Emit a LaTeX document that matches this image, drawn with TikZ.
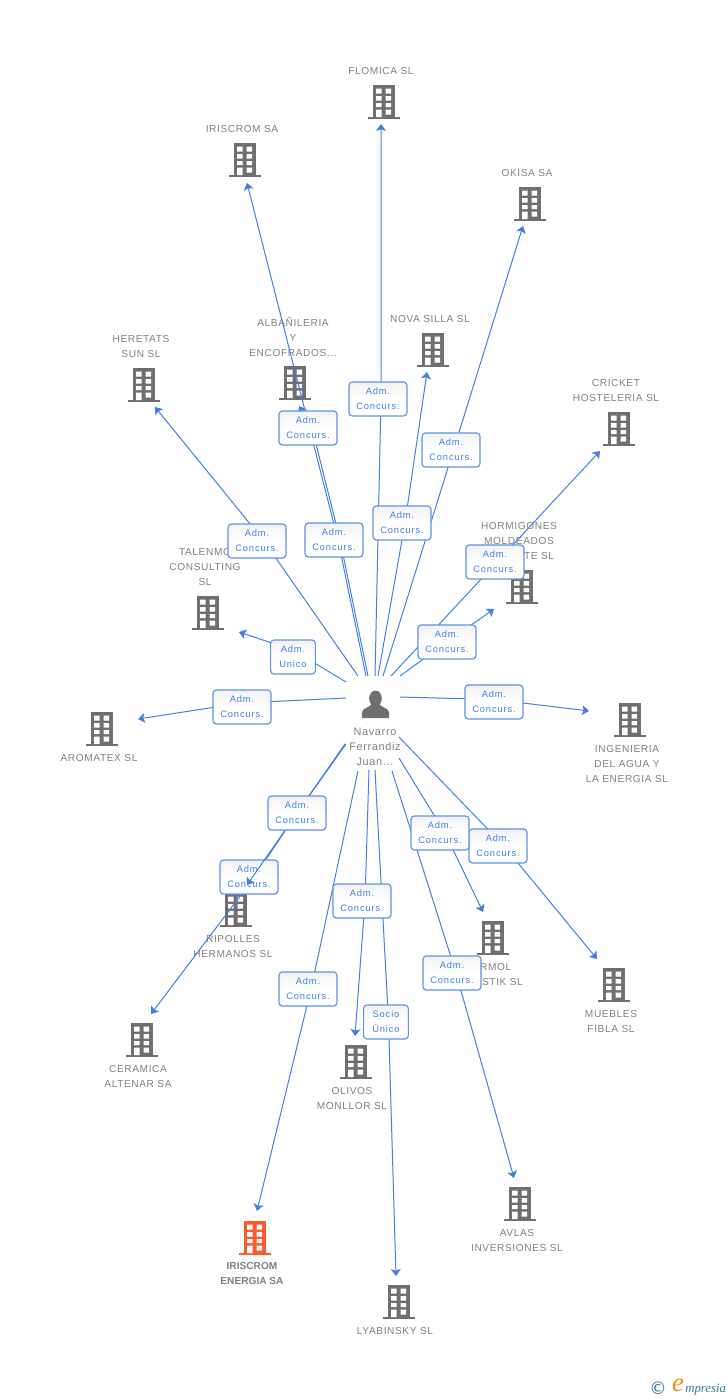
\documentclass[tikz,border=0pt]{standalone}
\usepackage{fontspec}
\usetikzlibrary{arrows.meta}
\setmainfont{Liberation Sans}
\newfontfamily\lblfont[LetterSpace=6]{Liberation Sans}
\newfontfamily\boxfont[LetterSpace=9]{Liberation Sans}
\newfontfamily\logofont{Liberation Serif}
\newfontfamily\symfont{DejaVu Sans}
\definecolor{linkblue}{HTML}{3F80E2}
\definecolor{boxedge}{HTML}{5C94E6}
\definecolor{graytext}{HTML}{7F7F7F}
\definecolor{icongray}{HTML}{6F6F6F}
\definecolor{iconorange}{HTML}{FF5A2B}
\definecolor{logoteal}{HTML}{2F7C9C}
\definecolor{logoorange}{HTML}{F28A1E}
\pgfdeclarelayer{under}
\pgfdeclarelayer{edges}
\pgfdeclarelayer{over}
\pgfsetlayers{under,edges,main,over}
\tikzset{
  x=0.75pt,y=-0.75pt,
  lbl/.style={text=graytext,align=center,font=\lblfont\fontsize{7.6pt}{11.25pt}\selectfont,inner sep=0pt},
  rel/.style={draw=boxedge,line width=0.85pt,rounded corners=2.5pt,top color=black!5,bottom color=white,middle color=white,
    text=linkblue,align=center,font=\boxfont\fontsize{7pt}{11.25pt}\selectfont,inner sep=0pt,minimum width=43.5pt,minimum height=25.5pt},
  relsm/.style={rel,minimum width=33.5pt},
  link/.style={draw=linkblue,line width=0.75pt,-{Stealth[length=5.2pt,width=7.5pt,inset=1.2pt]}},
  plainlink/.style={draw=linkblue,line width=0.75pt},
  pics/bld/.style={code={
    \fill[#1] (-11,-17) rectangle (11,15);
    \fill[#1] (-16,15) rectangle (16,17);
    \fill[white] (-8,-13.5) rectangle (-2.5,-8.5) (1.5,-13.5) rectangle (7,-8.5)
                 (-8,-6) rectangle (-2.5,-1.5) (1.5,-6) rectangle (7,-1.5)
                 (-8,1) rectangle (-2.5,5) (1.5,1) rectangle (7,5)
                 (-8,7.5) rectangle (-2.5,15) (1.5,7.5) rectangle (7,12.5);
  }},
}
\begin{document}
\begin{tikzpicture}
\useasboundingbox (0,0) rectangle (728,1400);

\begin{pgfonlayer}{under}
% icons
\foreach \px/\py in {384/102,245/160,530/204,433/350,295/383,144/385,619/429,522/587,208/613,102/729,630/720,236/910,493/938,614/985,142/1040,356/1062,520/1204,399/1302}
  \pic at (\px,\py) {bld=icongray};
\pic at (255,1238) {bld=iconorange};
% person
\fill[icongray] (375.5,698.5) ellipse (6.3 and 8);
\fill[icongray] (362,718) -- (362,712.5) .. controls (362,708) and (369,708) .. (372,704)
  -- (379,704) .. controls (382,708) and (389,708) .. (389,712.5) -- (389,718) -- cycle;
% labels
\node[lbl] (nFlomica) at (381,71) {FLOMICA SL};
\node[lbl] (nIriscrom) at (242,129) {IRISCROM SA};
\node[lbl] (nOkisa) at (527,173) {OKISA SA};
\node[lbl] (nNova) at (430,319) {NOVA SILLA SL};
\node[lbl] (nAlba) at (293,337) {ALBAÑILERIA\\Y\\ENCOFRADOS...};
\node[lbl] (nHeretats) at (141,346.5) {HERETATS\\SUN SL};
\node[lbl] (nCricket) at (616,390.5) {CRICKET\\HOSTELERIA SL};
\node[lbl] (nHorm) at (519,541) {HORMIGONES\\MOLDEADOS\\ALICANTE SL};
\node[lbl] (nTalen) at (205,567) {TALENMO\\CONSULTING\\SL};
\node[lbl] (nAroma) at (99,758) {AROMATEX SL};
\node[lbl] (nIng) at (627,764) {INGENIERIA\\DEL AGUA Y\\LA ENERGIA SL};
\node[lbl] (nRip) at (233,946.5) {RIPOLLES\\HERMANOS SL};
\node[lbl] (nArmol) at (492,974.5) {ARMOL\\PLASTIK SL};
\node[lbl] (nMuebles) at (611,1021.5) {MUEBLES\\FIBLA SL};
\node[lbl] (nCeram) at (138,1076.5) {CERAMICA\\ALTENAR SA};
\node[lbl] (nOlivos) at (352,1098.5) {OLIVOS\\MONLLOR SL};
\node[lbl] (nAvlas) at (517,1240.5) {AVLAS\\INVERSIONES SL};
\node[lbl,font=\bfseries\fontsize{7.6pt}{11.25pt}\selectfont] (nEnergia) at (252,1273.5) {IRISCROM\\ENERGIA SA};
\node[lbl] (nLyab) at (395,1331) {LYABINSKY SL};
\node[lbl,font=\lblfont\fontsize{8.2pt}{11.25pt}\selectfont] (nPerson) at (375,747) {Navarro\\Ferrandiz\\Juan...};
\end{pgfonlayer}

% relation boxes
\foreach \n/\bx/\by in {Flo/378/399,Alb/308/428,Iri/334/540,Nov/402/523,Oki/451/450,Cri/495/562,Hor/447/642,Her/257/541,Ara/242/707,Ing/494/702,Mue/498/846,Arm/440/833,Avl/452/973,Oli/362/901,Ene/308/989,Rip/297/813,Cer/249/877}
  \node[rel] (box\n) at (\bx,\by) {Adm.\hspace{3pt}\\Concurs.};
\node[relsm] (boxTal) at (293,657) {Adm.\\Unico};
\node[relsm] (boxLya) at (386,1022) {Socio\\Único};

% free ends of the connectors
\foreach \n/\sx/\sy/\ex/\ey in {Flo/375/676/381/124,Alb/368/676/299/406,Iri/366/676/247/183,Nov/378/676/427/372,Oki/383/676/523/226,Cri/391/676/600/451,Hor/400/676/494/609,Her/358/676/155/407,Tal/346/682/239/632,Ara/346/698/138/719,Ing/400/697/589/711,Mue/399/737/597/959,Arm/399/758/483/912,Avl/392/771/514/1178,Lya/375/770/396/1276,Oli/369/770/355/1036,Ene/358/771/257/1211,Rip/346/744/247/885,Cer/345/744/151/1014}{
  \coordinate (s\n) at (\sx,\sy);
  \coordinate (e\n) at (\ex,\ey);
}

\begin{pgfonlayer}{edges}
% each connector runs through a point hidden behind its box
\foreach \n/\dx/\dy in {Flo/3/0,Nov/3/0,Oki/2.5/0,Cri/2/0,Hor/0/0,Her/7/0,Tal/0/-7,Ara/0/-4,Ing/0/-2.5,Mue/6/0,Arm/5/0,Avl/4/0,Lya/2.5/0,Oli/3/0,Ene/3/0}
  \draw[link] (s\n) -- ([xshift=\dx*0.75pt,yshift=-\dy*0.75pt]box\n.center) -- (e\n);
\draw[link] (sIri) -- ([xshift=3pt]boxIri.center) -- (eIri);
\draw[link] (sAlb) -- ([xshift=4.5pt]boxIri.center) -- ([xshift=3pt]boxAlb.center) -- (eAlb);
\draw[plainlink] (sRip) -- (boxRip.center);
\draw[link] (sCer) -- (boxRip.center) -- ([xshift=3pt,yshift=-1.5pt]boxCer.center) -- (eCer);
\end{pgfonlayer}
\begin{pgfonlayer}{over}
\draw[link] (boxRip) -- (eRip);
\end{pgfonlayer}

% logo
\node[inner sep=0pt,text=logoteal,font=\symfont\fontsize{13pt}{13pt}\selectfont] (logoC) at (658,1388) {©};
\node[inner sep=0pt,text=logoorange,font=\logofont\itshape\fontsize{20pt}{20pt}\selectfont] (logoE) at (678,1385) {e};
\node[inner sep=0pt,anchor=west,text=logoteal,font=\logofont\itshape\fontsize{9.6pt}{10pt}\selectfont] (logoT) at (685,1389.5) {mpresia};
\end{tikzpicture}
\end{document}
